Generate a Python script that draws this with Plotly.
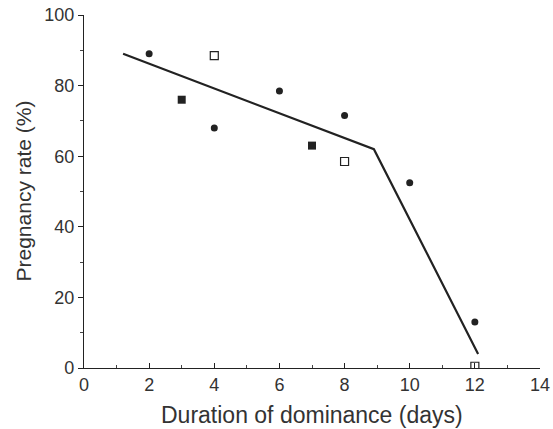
import plotly.graph_objects as go

# Data
circle_x = [2, 4, 6, 8, 10, 12]
circle_y = [89, 68, 78.5, 71.5, 52.5, 13]
fsquare_x = [3, 7]
fsquare_y = [76, 63]
osquare_x = [4, 8, 12]
osquare_y = [88.5, 58.5, 0.5]
line_x = [1.2, 8.9, 12.1]
line_y = [89, 62, 4]

x_ticks = [0, 2, 4, 6, 8, 10, 12, 14]
y_ticks = [0, 20, 40, 60, 80, 100]

INK = "#222222"
TXT = "#333333"

fig = go.Figure()
fig.add_trace(go.Scatter(x=line_x, y=line_y, mode="lines",
                         line=dict(color=INK, width=2.2), showlegend=False))
fig.add_trace(go.Scatter(x=circle_x, y=circle_y, mode="markers",
                         marker=dict(symbol="circle", size=7, color=INK), showlegend=False))
fig.add_trace(go.Scatter(x=fsquare_x, y=fsquare_y, mode="markers",
                         marker=dict(symbol="square", size=8, color=INK), showlegend=False))
fig.add_trace(go.Scatter(x=osquare_x, y=osquare_y, mode="markers",
                         marker=dict(symbol="square-open", size=8, color=INK,
                                     line=dict(width=1.2)), showlegend=False))

font = dict(family="Liberation Sans, Arial, sans-serif", size=18, color=TXT)
fig.update_layout(
    width=553, height=429,
    margin=dict(l=84, r=13, t=15, b=61),
    paper_bgcolor="white", plot_bgcolor="white",
    font=font,
    xaxis=dict(range=[0, 14], tickvals=x_ticks, ticktext=[str(v) for v in x_ticks],
               showline=True, linecolor=INK, linewidth=1.3, automargin=False,
               ticklabeloverflow="allow",
               ticks="inside", ticklen=5, tickcolor=INK, showgrid=False, zeroline=False,
               minor=dict(dtick=1, ticks="inside", ticklen=3, tickcolor="#444444"),
               tickfont=dict(size=18, color=TXT)),
    yaxis=dict(range=[0, 100], tickvals=y_ticks, ticktext=[str(v) for v in y_ticks],
               showline=True, linecolor=INK, linewidth=1.3, automargin=False,
               ticklabeloverflow="allow",
               ticks="outside", ticklen=5, tickcolor=INK, showgrid=False, zeroline=False,
               minor=dict(dtick=10, ticks="outside", ticklen=3, tickcolor="#444444"),
               tickfont=dict(size=18, color=TXT)),
    annotations=[
        dict(text="Duration of dominance (days)", xref="paper", yref="paper",
             x=0.5, y=0, xanchor="center", yanchor="middle", yshift=-47,
             showarrow=False, font=dict(size=23, color=TXT)),
        dict(text="Pregnancy rate (%)", xref="paper", yref="paper",
             x=0, y=0.5, xanchor="center", yanchor="middle", xshift=-61,
             textangle=-90, showarrow=False, font=dict(size=21, color=TXT)),
    ],
)
fig.write_html("out.html",
               config={"displayModeBar": False},
               post_script="document.body.style.margin='0';document.body.style.overflow='hidden';")
